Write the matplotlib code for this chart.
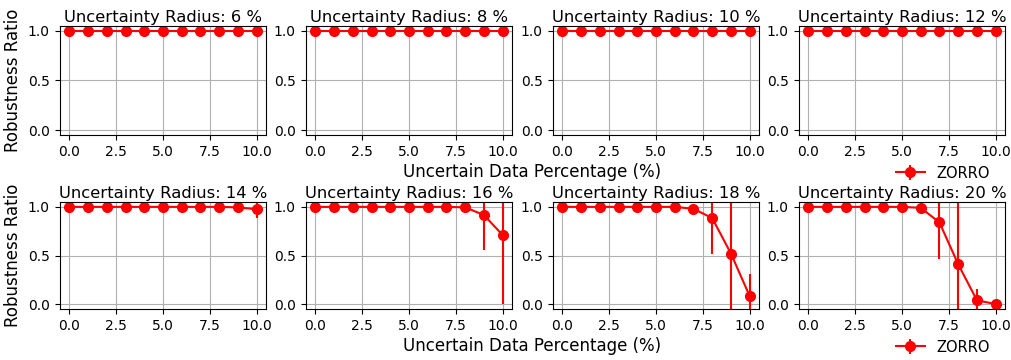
import matplotlib
matplotlib.use("Agg")
import matplotlib.pyplot as plt
import numpy as np

x = [0, 1, 2, 3, 4, 5, 6, 7, 8, 9, 10]
radii = [6, 8, 10, 12, 14, 16, 18, 20]

means = {
    6:  [1.0, 1.0, 1.0, 1.0, 1.0, 1.0, 1.0, 1.0, 1.0, 1.0, 1.0],
    8:  [1.0, 1.0, 1.0, 1.0, 1.0, 1.0, 1.0, 1.0, 1.0, 1.0, 1.0],
    10: [1.0, 1.0, 1.0, 1.0, 1.0, 1.0, 1.0, 1.0, 1.0, 1.0, 1.0],
    12: [1.0, 1.0, 1.0, 1.0, 1.0, 1.0, 1.0, 1.0, 1.0, 1.0, 1.0],
    14: [1.0, 1.0, 1.0, 1.0, 1.0, 1.0, 1.0, 1.0, 1.0, 0.995, 0.975],
    16: [1.0, 1.0, 1.0, 1.0, 1.0, 1.0, 1.0, 1.0, 0.995, 0.916, 0.71],
    18: [1.0, 1.0, 1.0, 1.0, 1.0, 1.0, 1.0, 0.98, 0.885, 0.52, 0.084],
    20: [1.0, 1.0, 1.0, 1.0, 1.0, 1.0, 0.99, 0.84, 0.41, 0.04, 0.0],
}
errs = {
    6:  [0.0] * 11,
    8:  [0.0] * 11,
    10: [0.0] * 11,
    12: [0.0] * 11,
    14: [0, 0, 0, 0, 0, 0, 0, 0, 0, 0.01, 0.09],
    16: [0, 0, 0, 0, 0, 0, 0, 0, 0.01, 0.36, 0.71],
    18: [0, 0, 0, 0, 0, 0, 0, 0.02, 0.365, 0.6, 0.225],
    20: [0, 0, 0, 0, 0, 0, 0.01, 0.38, 0.65, 0.115, 0.0],
}

W, H = 1011, 360
fig = plt.figure(figsize=(W / 100, H / 100), dpi=100)

lefts = [60, 306, 553, 799]
aw = 206
rows = [(26, 135), (202, 309)]

def px(l, t, w, h):
    return [l / W, 1 - (t + h) / H, w / W, h / H]

for r, (top, bot) in enumerate(rows):
    for c in range(4):
        rad = radii[r * 4 + c]
        ax = fig.add_axes(px(lefts[c], top, aw, bot - top))
        h = ax.errorbar(x, means[rad], yerr=errs[rad], color="red", ecolor="red",
                        marker="o", markersize=7, linewidth=1.5, elinewidth=1.5,
                        label="ZORRO")
        ax.set_ylim(-0.05, 1.05)
        ax.set_xlim(-0.5, 10.5)
        ax.set_xticks([0, 2.5, 5, 7.5, 10])
        ax.set_yticks([0.0, 0.5, 1.0])
        ax.grid(True, color="#b0b0b0", linewidth=0.8)
        ax.tick_params(labelsize=10, pad=4)
        ax.set_title(f"Uncertainty Radius: {rad} %", fontsize=11.8, pad=3)
        if c == 0:
            ax.set_ylabel("Robustness Ratio", fontsize=12)
        if c == 3:
            handle = h
    ybase = bot + 37
    fig.text(532 / W, 1 - ybase / H, "Uncertain Data Percentage (%)",
             ha="center", va="center", fontsize=12)
    fig.legend([handle], ["ZORRO"], loc="center",
               bbox_to_anchor=(943 / W, 1 - (bot + 38) / H), frameon=False,
               fontsize=10.5)

fig.savefig("out.png", dpi=100)
